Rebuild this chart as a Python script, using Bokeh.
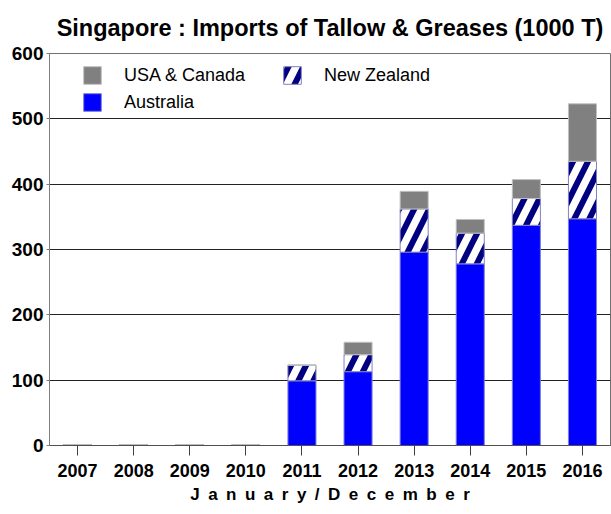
from bokeh.plotting import figure
from bokeh.models import FactorRange, Range1d, Legend, LegendItem, FixedTicker, ColumnDataSource
from bokeh.transform import stack
from bokeh.embed import file_html
from bokeh.resources import INLINE

years = ["2007", "2008", "2009", "2010", "2011", "2012", "2013", "2014", "2015", "2016"]
australia = [1, 1, 1, 1, 99, 113, 296, 278, 337, 347]
new_zealand = [0, 0, 0, 0, 24, 26, 66, 47, 41, 88]
usa_canada = [0, 0, 0, 0, 0, 19, 27, 21, 29, 88]
y_ticks = [0, 100, 200, 300, 400, 500, 600]

FONT = "Liberation Sans"

src = ColumnDataSource(dict(year=years, aus=australia, nz=new_zealand, usa=usa_canada))

p = figure(x_range=FactorRange(*years, range_padding=0), y_range=Range1d(0, 600),
           width=611, height=514, output_backend="svg", toolbar_location=None,
           min_border_left=49, min_border_right=1, min_border_top=53, min_border_bottom=69,
           title="Singapore : Imports of Tallow & Greases (1000 T)")

p.title.align = "center"
p.title.vertical_align = "top"
p.title.text_font = FONT
p.title.text_font_size = "23.5px"
p.title.text_font_style = "bold"
p.title.text_color = "black"
p.title.standoff = 22

r_aus = p.vbar(x="year", bottom=0, top=stack("aus"), width=0.5, source=src,
               fill_color="#0000ff", line_color="#7f7fd0", line_width=1)
r_nz = p.vbar(x="year", bottom=stack("aus"), top=stack("aus", "nz"), width=0.5, source=src,
              fill_color="white", line_color="#8080c0", line_width=1,
              hatch_pattern="right_diagonal_line", hatch_color="#000080",
              hatch_scale=30, hatch_weight=6)
r_usa = p.vbar(x="year", bottom=stack("aus", "nz"), top=stack("aus", "nz", "usa"), width=0.5,
               source=src, fill_color="#808080", line_color="#c0c0c0", line_width=1)

p.outline_line_color = "#707070"
p.xgrid.grid_line_color = None
p.ygrid.grid_line_color = "#222222"
p.ygrid.ticker = FixedTicker(ticks=y_ticks)

p.yaxis.ticker = FixedTicker(ticks=y_ticks)
p.yaxis.axis_line_color = "#808080"
p.yaxis.major_tick_out = 3
p.yaxis.major_tick_in = 0
p.yaxis.minor_tick_line_color = None
p.yaxis.major_tick_line_color = "#808080"
p.yaxis.major_label_text_font = FONT
p.yaxis.major_label_text_font_size = "19px"
p.yaxis.major_label_text_font_style = "bold"
p.yaxis.major_label_text_color = "black"
p.yaxis.major_label_standoff = 3

p.xaxis.axis_line_color = "#505050"
p.xaxis.major_tick_out = 10
p.xaxis.major_tick_in = 0
p.xaxis.major_tick_line_color = "#404040"
p.xaxis.major_label_text_font = FONT
p.xaxis.major_label_text_font_size = "18px"
p.xaxis.major_label_text_font_style = "bold"
p.xaxis.major_label_text_color = "black"
p.xaxis.major_label_standoff = 8

sp = "\u2002"
p.xaxis.axis_label = sp.join("January") + sp + "/" + sp + sp.join("December")
p.xaxis.axis_label_text_font = FONT
p.xaxis.axis_label_text_font_size = "17px"
p.xaxis.axis_label_text_font_style = "bold"
p.xaxis.axis_label_text_color = "black"
p.xaxis.axis_label_standoff = 5

legend = Legend(items=[LegendItem(label="USA & Canada", renderers=[r_usa]),
                       LegendItem(label="Australia", renderers=[r_aus]),
                       LegendItem(label="New Zealand", renderers=[r_nz])],
                location=(32, 332), orientation="vertical", ncols=2,
                glyph_width=22, glyph_height=22, label_standoff=21, spacing=5,
                label_width=152,
                padding=0, margin=0, border_line_color=None, background_fill_alpha=0,
                label_text_font=FONT, label_text_font_size="18px", label_text_color="black")
p.add_layout(legend)

open("out.html", "w").write(file_html(p, INLINE))
